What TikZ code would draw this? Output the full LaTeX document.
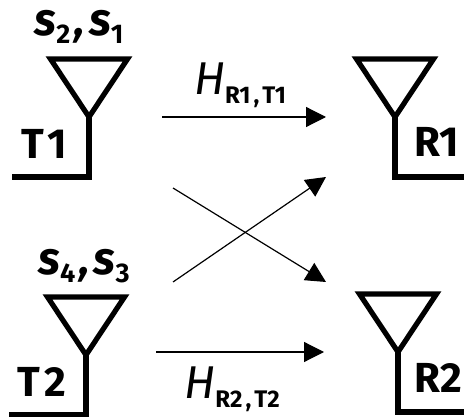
\documentclass[tikz,border=0pt]{standalone}
\usepackage{fontspec}
\setmainfont{Fira Sans}
\usetikzlibrary{arrows.meta}
\tikzset{
  ant/.style={line width=5.2pt,line join=miter,line cap=butt},
  link/.style={line width=1.2pt,-{Triangle[length=20pt,width=20pt]}},
  anttext/.style={inner sep=0pt,font=\fontsize{42}{42}\selectfont\bfseries},
  symtext/.style={inner sep=0pt,font=\fontsize{44}{44}\selectfont\bfseries},
  chantext/.style={inner sep=0pt,font=\bfseries}
}
\newcommand{\syl}[2]{\textit{\fontsize{46}{46}\selectfont #1}\raisebox{-8pt}{\fontsize{27}{27}\selectfont\bfseries #2}}
\newcommand{\hlb}[2]{\textit{\fontsize{46}{46}\mdseries\selectfont H}\raisebox{-9pt}{\fontsize{24}{24}\selectfont\bfseries #1\kern3pt,\kern3pt #2}}
\newcommand{\antenna}[4]{%
  \coordinate (#1a) at (#2,#3);
  \coordinate (#1l) at (#2-38.5,#3-58);
  \coordinate (#1r) at (#2+38.5,#3-58);
  \coordinate (#1b) at (#2,#3+60);
  \coordinate (#1f) at (#4,#3+60);
  \draw[ant] (#1a) -- (#1l) -- (#1r) -- cycle;
  \draw[ant] (#1a) -- (#1b) -- (#1f);
}
\begin{document}
\begin{tikzpicture}[x=1pt,y=-1pt]
\useasboundingbox (0,0) rectangle (464,417);
\antenna{tx1}{89}{117}{12}
\antenna{tx2}{86}{355}{9}
\antenna{rx1}{395}{117}{464}
\antenna{rx2}{398}{352}{464}
\node[anttext] (t1) at (44,144) {T\kern3pt 1};
\node[anttext] (t2) at (42,382) {T\kern4pt 2};
\node[anttext] (r1) at (437,142) {R1};
\node[anttext] (r2) at (438,378) {R2};
\node[symtext] (s21) at (79,27) {\syl{s}{2}\kern4pt\textit{,}\kern4pt\syl{s}{1}};
\node[symtext] (s43) at (84,266) {\syl{s}{4}\kern4pt\textit{,}\kern4pt\syl{s}{3}};
\node[chantext] (h1) at (240,85) {\hlb{R1}{T1}};
\node[chantext] (h2) at (232,389) {\hlb{R2}{T2}};
\coordinate (a1s) at (162,117);
\coordinate (a1e) at (326,117);
\coordinate (a2s) at (156,352);
\coordinate (a2e) at (324,352);
\coordinate (c1s) at (173,188);
\coordinate (c1e) at (326,282);
\coordinate (c2s) at (173,282);
\coordinate (c2e) at (326,177);
\draw[link] (a1s) -- (a1e);
\draw[link] (a2s) -- (a2e);
\draw[link] (c1s) -- (c1e);
\draw[link] (c2s) -- (c2e);
\end{tikzpicture}
\end{document}
